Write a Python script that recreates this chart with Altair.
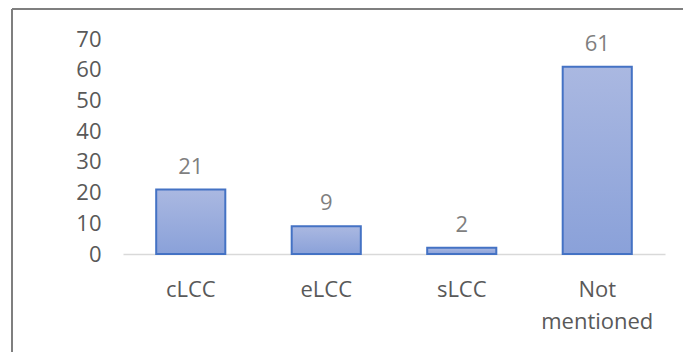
import altair as alt
import pandas as pd

# Mentions of each LCC type
categories = ["cLCC", "eLCC", "sLCC", "Not mentioned"]
counts = [21, 9, 2, 61]
y_ticks = [0, 10, 20, 30, 40, 50, 60, 70]

df = pd.DataFrame({"category": categories, "count": counts})

FONT = "Open Sans"

x_enc = alt.X(
    "category:N",
    sort=categories,
    scale=alt.Scale(paddingInner=0.49, paddingOuter=0.245),
    axis=alt.Axis(
        title=None,
        labelAngle=0,
        ticks=False,
        tickSize=0,
        domain=True,
        domainColor="#d9d9d9",
        domainWidth=1.5,
        labelPadding=25,
        labelFont=FONT,
        labelFontSize=22,
        labelColor="#595959",
        labelLineHeight=32,
        labelExpr="split(datum.label, ' ')",
    ),
)
y_enc = alt.Y(
    "count:Q",
    scale=alt.Scale(domain=[0, 70], nice=False),
    axis=alt.Axis(
        title=None,
        values=y_ticks,
        tickCount=8,
        grid=False,
        ticks=False,
        tickSize=0,
        domain=False,
        labelOverlap=False,
        labelSeparation=0,
        labelPadding=22,
        labelFont=FONT,
        labelFontSize=22,
        labelColor="#595959",
    ),
)

bar_fill = alt.Gradient(
    gradient="linear",
    x1=0, x2=0, y1=0, y2=1,
    stops=[
        alt.GradientStop(offset=0, color="#aab8e1"),
        alt.GradientStop(offset=1, color="#8aa1d9"),
    ],
)

bars = alt.Chart(df).mark_bar(
    fill=bar_fill, stroke="#4472c4", strokeWidth=2
).encode(x=x_enc, y=y_enc)

labels = alt.Chart(df).mark_text(
    baseline="alphabetic", dy=-16, font=FONT, fontSize=22, color="#7f7f7f"
).encode(x=alt.X("category:N", sort=categories), y="count:Q", text="count:Q")

# Outer frame (top and left edges)
frame_data = alt.Data(values=[{}])
frame_top = alt.Chart(frame_data).mark_rule(color="#7f7f7f", strokeWidth=2).encode(
    x=alt.value(-111), x2=alt.value(600), y=alt.value(-30)
)
frame_left = alt.Chart(frame_data).mark_rule(color="#7f7f7f", strokeWidth=2).encode(
    x=alt.value(-111), y=alt.value(-30), y2=alt.value(340)
)

chart = (
    alt.layer(bars, labels, frame_top, frame_left)
    .properties(
        width=542,
        height=215,
        autosize=alt.AutoSizeParams(type="none"),
        padding={"left": 123, "top": 39, "right": 18, "bottom": 98},
        background="white",
    )
    .configure_view(stroke=None)
    .configure_axisY(labelOverlap=False)
)

chart.save("out.html", embed_options={"renderer": "svg", "actions": False})
